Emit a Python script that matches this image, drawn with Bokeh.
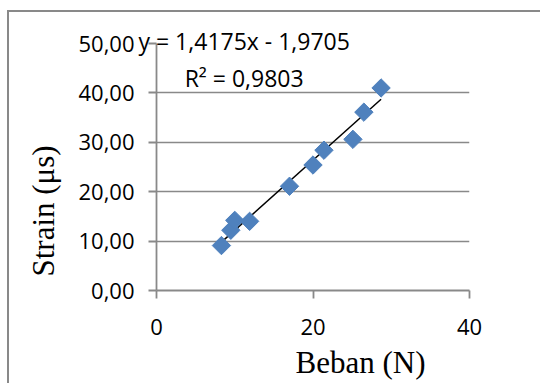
from bokeh.plotting import figure
from bokeh.models import Range1d, FixedTicker, Label, Title
from bokeh.embed import file_html
from bokeh.resources import INLINE
import math

# data
beban = [8.3, 9.5, 10.0, 11.9, 17.0, 20.0, 21.4, 25.1, 26.5, 28.7]
strain = [9.1, 12.2, 14.2, 14.0, 21.1, 25.4, 28.4, 30.6, 36.1, 41.0]
slope = 1.4175
intercept = -1.9705
x_ticks = [0, 20, 40]
y_ticks = [0, 10, 20, 30, 40, 50]
y_tick_labels = ["0,00", "10,00", "20,00", "30,00", "40,00", "50,00"]
eq_text = "y = 1,4175x - 1,9705"
r2_text = "R² = 0,9803"
x_title = "Beban (N)"
y_title = "Strain (μs)"

GRAY = "#898989"
BLUE = "#4F81BD"
SANS = "Open Sans"
SERIF = "Liberation Serif"

p = figure(width=533, height=373, output_backend="svg", toolbar_location=None,
           x_range=Range1d(0, 40), y_range=Range1d(0, 50),
           min_border_left=146, min_border_right=73, min_border_top=31, min_border_bottom=93)
p.margin = (10, 0, 0, 7)
p.styles = {"border-top": "2px solid #898989", "border-left": "2px solid #898989"}
p.outline_line_color = None
p.background_fill_color = "white"
p.border_fill_color = "white"

# axes
for ax in (p.xaxis, p.yaxis):
    ax.axis_line_color = GRAY
    ax.axis_line_width = 1.8
    ax.major_tick_line_color = GRAY
    ax.major_tick_line_width = 1.8
    ax.major_tick_in = 0
    ax.major_tick_out = 8
    ax.minor_tick_line_color = None
    ax.major_label_text_font = SANS
    ax.major_label_text_font_size = "22px"
    ax.major_label_text_color = "black"

p.xaxis.ticker = FixedTicker(ticks=x_ticks)
p.yaxis.ticker = FixedTicker(ticks=y_ticks)
p.yaxis.major_label_overrides = {t: s for t, s in zip(y_ticks, y_tick_labels)}
p.xaxis.major_label_standoff = 20
p.yaxis.major_label_standoff = 14

p.xgrid.grid_line_color = None
p.ygrid.grid_line_color = GRAY
p.ygrid.grid_line_width = 1.6

# trendline
x0, x1 = min(beban), max(beban)
p.line([x0, x1], [slope * x0 + intercept, slope * x1 + intercept], line_color="black", line_width=1.5)

# points
p.scatter(beban, strain, marker="square", size=13, angle=math.pi / 4,
          fill_color=BLUE, line_color=BLUE)

# regression equation (crosses the frame edge, so placed as a title) and R²
p.add_layout(Title(text=eq_text, text_font=SANS, text_font_size="23px", text_font_style="normal",
                   text_color="black", align="left", offset=-18, standoff=-27), "above")
p.add_layout(Label(x=3.6, y=43.0, text=r2_text, text_font=SANS, text_font_size="23px",
                   text_color="black", text_baseline="alphabetic", text_align="left"))

# axis titles
p.add_layout(Title(text=x_title, text_font=SERIF, text_font_size="31px", text_font_style="normal",
                   text_color="black", align="left", offset=139, standoff=11), "below")
p.add_layout(Title(text=y_title, text_font=SERIF, text_font_size="31px", text_font_style="normal",
                   text_color="black", align="left", offset=14, standoff=29), "left")

open("out.html", "w").write(file_html(p, INLINE))
